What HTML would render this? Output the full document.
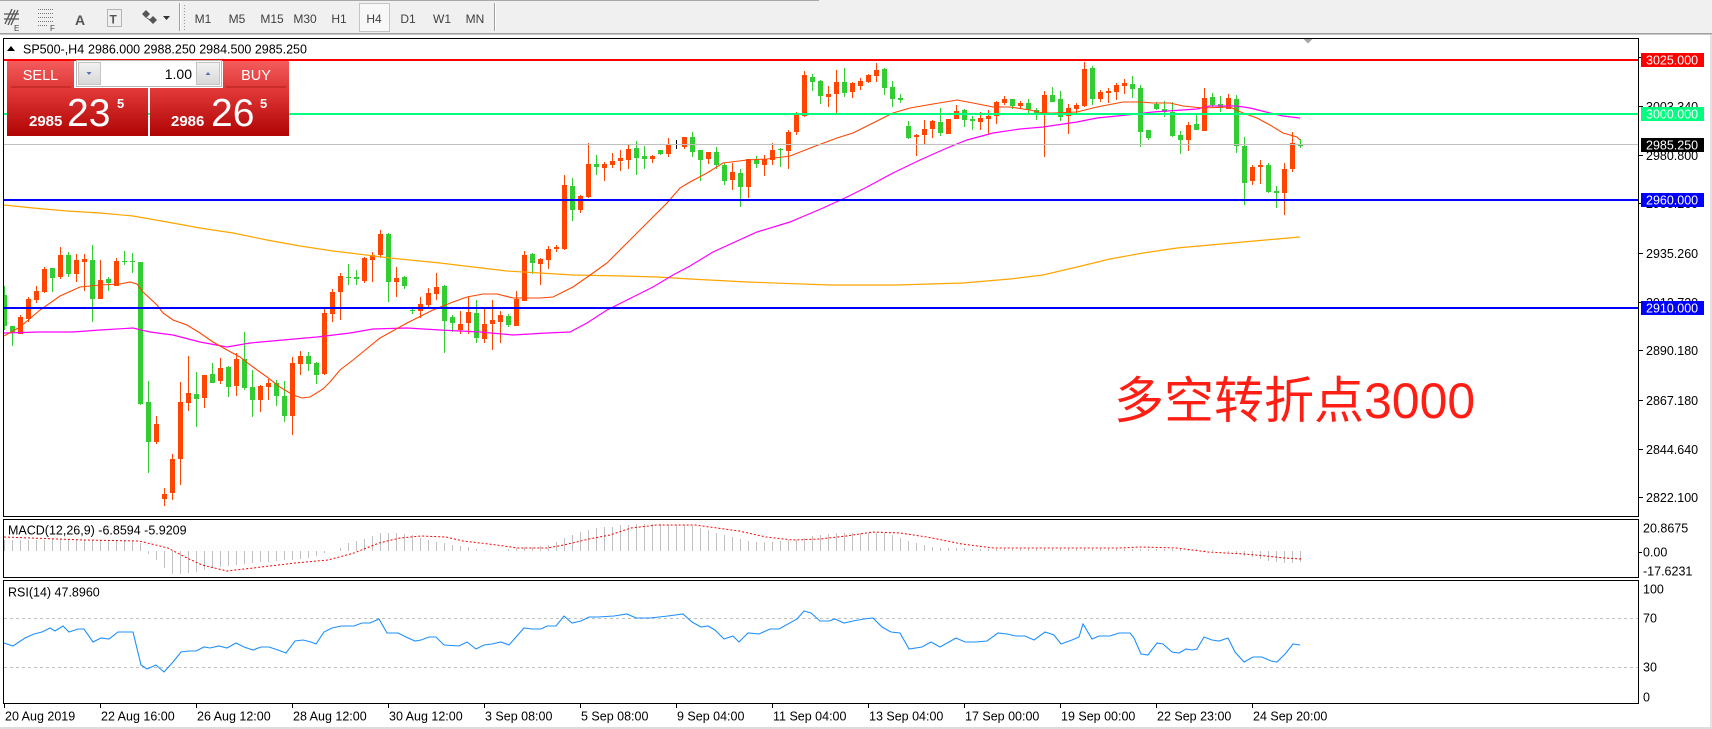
<!DOCTYPE html>
<html><head><meta charset="utf-8"><style>
html,body{margin:0;padding:0;background:#fff;width:1712px;height:729px;overflow:hidden}
svg{position:absolute;left:0;top:0}
text{font-family:"Liberation Sans",sans-serif}
</style></head><body>
<svg width="1712" height="729" viewBox="0 0 1712 729" xmlns="http://www.w3.org/2000/svg">
<defs>
<linearGradient id="gb" x1="0" y1="0" x2="0" y2="1"><stop offset="0" stop-color="#F45C5C"/><stop offset="1" stop-color="#DF3838"/></linearGradient>
<linearGradient id="gp" x1="0" y1="0" x2="0" y2="1"><stop offset="0" stop-color="#E43A3A"/><stop offset="1" stop-color="#B00404"/></linearGradient>
<linearGradient id="gbt" x1="0" y1="0" x2="0" y2="1"><stop offset="0" stop-color="#F2F2F2"/><stop offset="1" stop-color="#D8D8D8"/></linearGradient>
<clipPath id="cm"><rect x="4" y="39" width="1635" height="477"/></clipPath>
<clipPath id="cmacd"><rect x="4" y="520" width="1635" height="57"/></clipPath>
<clipPath id="crsi"><rect x="4" y="581" width="1635" height="122"/></clipPath>
</defs>
<rect x="0" y="0" width="1712" height="729" fill="#fff"/>
<!-- toolbar -->
<rect x="0" y="0" width="1712" height="33" fill="#F0F0F0"/>
<rect x="0" y="0" width="819" height="1" fill="#A8A8A8"/>
<rect x="0" y="33" width="1712" height="1" fill="#A0A0A0"/>
<rect x="0" y="34" width="1712" height="1" fill="#C8C8C8"/>
<g stroke="#555" stroke-width="1.3" fill="none">
<path d="M5 24L12 9M8 25L15 10M11 25L18 10M4 14H19M4 19H19"/>
</g>
<text x="14" y="31" font-size="8" fill="#444">E</text>
<g stroke="#777" stroke-width="1" stroke-dasharray="1 1" fill="none">
<path d="M38 9.5H54M38 13.5H54M38 17.5H54M38 21.5H54M38 25.5H48"/>
</g>
<text x="50" y="31" font-size="8" fill="#444">F</text>
<text x="75" y="25" font-size="14" font-weight="bold" fill="#555">A</text>
<rect x="107.5" y="9.5" width="14" height="17" fill="none" stroke="#777" stroke-dasharray="1 1"/>
<text x="109.5" y="23.5" font-size="12" font-weight="bold" fill="#555">T</text>
<path d="M146 10l4 4-4 4-4-4zM153 16l4 4-4 4-4-4z" fill="#555"/>
<path d="M147 18L153 22" stroke="#555"/>
<path d="M163 16h7l-3.5 4z" fill="#333"/>
<rect x="179" y="3" width="1" height="28" fill="#A0A0A0"/><rect x="180" y="3" width="1" height="28" fill="#fff"/>
<path d="M184.5 5V30" stroke="#999" stroke-dasharray="1 2"/>
<rect x="359.5" y="3.5" width="30" height="28" fill="#F8F8F8" stroke="#C4C4C4"/>
<g font-size="12" fill="#404040" text-anchor="middle">
<text x="203" y="23">M1</text><text x="237" y="23">M5</text><text x="272" y="23">M15</text><text x="305" y="23">M30</text><text x="339" y="23">H1</text><text x="374" y="23">H4</text><text x="408" y="23">D1</text><text x="442" y="23">W1</text><text x="475" y="23">MN</text>
</g>
<rect x="494" y="3" width="1" height="28" fill="#A0A0A0"/><rect x="495" y="3" width="1" height="28" fill="#fff"/>
<rect x="1710" y="35" width="2" height="694" fill="#E2E2E2"/>

<!-- main pane content -->
<g clip-path="url(#cm)">
<!-- candles: orange (bull) -->
<path stroke="#FF4500" stroke-width="1" fill="none" d="M20.5 315V334M28.5 297V322M36.5 286V303M44.5 267V293M60.5 247V279M76.5 254V282M84.5 254V291M100.5 260V299M116.5 258V286M156.5 416V444M164.5 488V506M172.5 454V500M180.5 382V485M188.5 356V411M204.5 375V408M220.5 358V384M236.5 353V396M260.5 385V412M268.5 379V400M292.5 357V435M300.5 351V375M324.5 308V375M332.5 289V322M340.5 273V320M364.5 257V283M372.5 252V282M380.5 230V258M396.5 267V297M420.5 297V318M428.5 288V309M436.5 273V300M460.5 311V334M468.5 297V334M484.5 307V343M492.5 300V350M500.5 311V343M516.5 291V326M524.5 251V301M540.5 258V285M548.5 246V269M556.5 245V252M564.5 175V250M580.5 195V213M588.5 143V198M604.5 162V181M612.5 153V168M620.5 150V171M628.5 145V169M652.5 155V163M668.5 138V157M684.5 137V149M708.5 152V164M732.5 163V190M748.5 159V198M764.5 155V176M772.5 143V165M788.5 130V169M796.5 112V135M804.5 71V117M828.5 86V107M836.5 70V113M852.5 82V98M860.5 78V90M868.5 74V83M876.5 63V82M916.5 134V156M924.5 120V144M932.5 120V138M948.5 119V134M956.5 105V119M980.5 112V130M988.5 110V134M996.5 101V124M1004.5 96V105M1020.5 101V109M1044.5 91V157M1068.5 104V134M1076.5 103V115M1084.5 62V107M1100.5 90V102M1108.5 88V103M1116.5 83V100M1124.5 79V94M1188.5 122V151M1204.5 88V131M1228.5 94V109M1252.5 165V185M1260.5 160V184M1284.5 163V215M1292.5 132V172"/>
<g fill="#FF4500">
<rect x="18" y="317" width="5" height="17"/><rect x="26" y="299" width="5" height="20"/><rect x="34" y="291" width="5" height="9"/><rect x="42" y="269" width="5" height="23"/><rect x="58" y="255" width="5" height="22"/><rect x="74" y="260" width="5" height="14"/><rect x="82" y="259" width="5" height="3"/><rect x="98" y="280" width="5" height="19"/><rect x="114" y="261" width="5" height="25"/><rect x="154" y="424" width="5" height="18"/><rect x="162" y="494" width="5" height="5"/><rect x="170" y="459" width="5" height="34"/><rect x="178" y="402" width="5" height="57"/><rect x="186" y="393" width="5" height="10"/><rect x="202" y="375" width="5" height="23"/><rect x="218" y="368" width="5" height="13"/><rect x="234" y="359" width="5" height="27"/><rect x="258" y="386" width="5" height="14"/><rect x="266" y="383" width="5" height="4"/><rect x="290" y="363" width="5" height="53"/><rect x="298" y="356" width="5" height="8"/><rect x="322" y="313" width="5" height="61"/><rect x="330" y="292" width="5" height="22"/><rect x="338" y="276" width="5" height="16"/><rect x="362" y="258" width="5" height="23"/><rect x="370" y="255" width="5" height="5"/><rect x="378" y="234" width="5" height="21"/><rect x="394" y="278" width="5" height="4"/><rect x="418" y="304" width="5" height="7"/><rect x="426" y="293" width="5" height="12"/><rect x="434" y="287" width="5" height="7"/><rect x="458" y="324" width="5" height="6"/><rect x="466" y="312" width="5" height="11"/><rect x="482" y="324" width="5" height="15"/><rect x="490" y="320" width="5" height="4"/><rect x="498" y="315" width="5" height="7"/><rect x="514" y="299" width="5" height="27"/><rect x="522" y="255" width="5" height="46"/><rect x="538" y="259" width="5" height="5"/><rect x="546" y="249" width="5" height="11"/><rect x="554" y="247" width="5" height="2"/><rect x="562" y="185" width="5" height="64"/><rect x="578" y="196" width="5" height="14"/><rect x="586" y="164" width="5" height="33"/><rect x="602" y="164" width="5" height="4"/><rect x="610" y="161" width="5" height="4"/><rect x="618" y="158" width="5" height="3"/><rect x="626" y="149" width="5" height="11"/><rect x="650" y="156" width="5" height="3"/><rect x="666" y="145" width="5" height="9"/><rect x="682" y="137" width="5" height="10"/><rect x="706" y="152" width="5" height="7"/><rect x="730" y="172" width="5" height="8"/><rect x="746" y="159" width="5" height="28"/><rect x="762" y="159" width="5" height="6"/><rect x="770" y="150" width="5" height="10"/><rect x="786" y="132" width="5" height="19"/><rect x="794" y="114" width="5" height="18"/><rect x="802" y="75" width="5" height="41"/><rect x="826" y="94" width="5" height="3"/><rect x="834" y="82" width="5" height="12"/><rect x="850" y="83" width="5" height="9"/><rect x="858" y="81" width="5" height="5"/><rect x="866" y="75" width="5" height="7"/><rect x="874" y="70" width="5" height="6"/><rect x="914" y="135" width="5" height="2"/><rect x="922" y="129" width="5" height="6"/><rect x="930" y="121" width="5" height="8"/><rect x="946" y="119" width="5" height="15"/><rect x="954" y="111" width="5" height="8"/><rect x="978" y="118" width="5" height="4"/><rect x="986" y="116" width="5" height="3"/><rect x="994" y="102" width="5" height="14"/><rect x="1002" y="99" width="5" height="4"/><rect x="1018" y="103" width="5" height="3"/><rect x="1042" y="95" width="5" height="19"/><rect x="1066" y="108" width="5" height="8"/><rect x="1074" y="105" width="5" height="4"/><rect x="1082" y="69" width="5" height="37"/><rect x="1098" y="92" width="5" height="7"/><rect x="1106" y="91" width="5" height="2"/><rect x="1114" y="85" width="5" height="7"/><rect x="1122" y="83" width="5" height="3"/><rect x="1186" y="125" width="5" height="15"/><rect x="1202" y="98" width="5" height="33"/><rect x="1226" y="98" width="5" height="11"/><rect x="1250" y="167" width="5" height="14"/><rect x="1258" y="165" width="5" height="2"/><rect x="1282" y="169" width="5" height="24"/><rect x="1290" y="143" width="5" height="26"/>
</g>
<!-- candles: green (bear) -->
<path stroke="#32CD32" stroke-width="1" fill="none" d="M4.5 286V330M12.5 326V346M52.5 268V292M68.5 252V277M92.5 245V322M108.5 277V291M124.5 251V265M132.5 253V273M140.5 262V405M148.5 381V473M196.5 372V427M212.5 363V383M228.5 366V397M244.5 332V390M252.5 370V417M276.5 380V406M284.5 381V422M308.5 352V371M316.5 362V384M348.5 264V285M356.5 270V285M388.5 233V302M404.5 276V289M412.5 309V314M444.5 285V353M452.5 315V332M476.5 300V343M508.5 314V327M532.5 253V274M572.5 178V221M596.5 155V175M636.5 141V175M644.5 146V169M660.5 150V155M692.5 132V157M700.5 150V181M716.5 147V169M724.5 163V185M740.5 169V207M756.5 156V168M780.5 148V167M812.5 74V91M820.5 80V104M844.5 68V97M884.5 68V95M892.5 81V107M900.5 94V103M908.5 121V139M940.5 108V136M964.5 109V127M972.5 116V130M1012.5 99V109M1028.5 99V114M1036.5 108V120M1052.5 87V102M1060.5 91V121M1092.5 66V105M1132.5 76V98M1140.5 85V147M1148.5 130V140M1156.5 102V110M1164.5 101V117M1172.5 102V137M1180.5 131V154M1196.5 113V130M1212.5 93V107M1220.5 96V112M1236.5 95V153M1244.5 137V205M1268.5 163V193M1276.5 186V208M1300.5 139V148"/>
<g fill="#32CD32">
<rect x="4" y="295" width="3" height="31"/><rect x="10" y="326" width="5" height="7"/><rect x="50" y="268" width="5" height="10"/><rect x="66" y="255" width="5" height="19"/><rect x="90" y="260" width="5" height="39"/><rect x="106" y="279" width="5" height="4"/><rect x="122" y="261" width="5" height="1"/><rect x="130" y="261" width="5" height="1"/><rect x="138" y="262" width="5" height="142"/><rect x="146" y="402" width="5" height="40"/><rect x="194" y="394" width="5" height="5"/><rect x="210" y="374" width="5" height="9"/><rect x="226" y="367" width="5" height="20"/><rect x="242" y="359" width="5" height="29"/><rect x="250" y="387" width="5" height="13"/><rect x="274" y="383" width="5" height="13"/><rect x="282" y="396" width="5" height="20"/><rect x="306" y="356" width="5" height="8"/><rect x="314" y="363" width="5" height="12"/><rect x="346" y="277" width="5" height="1"/><rect x="354" y="277" width="5" height="2"/><rect x="386" y="234" width="5" height="48"/><rect x="402" y="277" width="5" height="9"/><rect x="410" y="310" width="5" height="1"/><rect x="442" y="286" width="5" height="35"/><rect x="450" y="317" width="5" height="6"/><rect x="474" y="313" width="5" height="25"/><rect x="506" y="316" width="5" height="9"/><rect x="530" y="254" width="5" height="9"/><rect x="570" y="186" width="5" height="24"/><rect x="594" y="164" width="5" height="3"/><rect x="634" y="148" width="5" height="10"/><rect x="642" y="156" width="5" height="3"/><rect x="658" y="150" width="5" height="4"/><rect x="690" y="137" width="5" height="15"/><rect x="698" y="150" width="5" height="10"/><rect x="714" y="152" width="5" height="13"/><rect x="722" y="165" width="5" height="16"/><rect x="738" y="173" width="5" height="14"/><rect x="754" y="160" width="5" height="4"/><rect x="778" y="149" width="5" height="1"/><rect x="810" y="77" width="5" height="5"/><rect x="818" y="81" width="5" height="15"/><rect x="842" y="82" width="5" height="11"/><rect x="882" y="69" width="5" height="19"/><rect x="890" y="87" width="5" height="12"/><rect x="898" y="98" width="5" height="2"/><rect x="906" y="126" width="5" height="12"/><rect x="938" y="122" width="5" height="11"/><rect x="962" y="110" width="5" height="10"/><rect x="970" y="119" width="5" height="2"/><rect x="1010" y="99" width="5" height="7"/><rect x="1026" y="103" width="5" height="7"/><rect x="1034" y="110" width="5" height="4"/><rect x="1050" y="95" width="5" height="7"/><rect x="1058" y="99" width="5" height="18"/><rect x="1090" y="68" width="5" height="31"/><rect x="1130" y="84" width="5" height="5"/><rect x="1138" y="88" width="5" height="44"/><rect x="1146" y="130" width="5" height="8"/><rect x="1154" y="104" width="5" height="5"/><rect x="1162" y="109" width="5" height="3"/><rect x="1170" y="112" width="5" height="24"/><rect x="1178" y="135" width="5" height="5"/><rect x="1194" y="124" width="5" height="6"/><rect x="1210" y="97" width="5" height="8"/><rect x="1218" y="104" width="5" height="4"/><rect x="1234" y="99" width="5" height="47"/><rect x="1242" y="146" width="5" height="37"/><rect x="1266" y="165" width="5" height="27"/><rect x="1274" y="191" width="5" height="2"/><rect x="1298" y="144" width="5" height="2"/>
</g>
<path d="M676.5 140V149M674 144.5H679" stroke="#000" stroke-width="1"/>
<!-- moving averages -->
<polyline fill="none" stroke="#FFA500" stroke-width="1.2" points="4,205 33,208 67,211 100,213 133,216 167,222 200,228 233,233 267,240 300,246 333,251 350,253 390,258 440,263 473,267 507,271 540,273 573,275 623,276 657,277 690,279 747,282 830,285 897,285 963,283 1010,279 1043,275 1077,267 1110,259 1143,253 1177,248 1210,245 1243,242 1277,239 1300,237"/>
<polyline fill="none" stroke="#FF00FF" stroke-width="1.2" points="4,333 40,332 73,332 100,330 133,328 150,332 173,335 200,342 227,347 250,343 283,340 317,337 350,333 373,329 407,328 440,330 480,332 513,335 547,333 570,332 587,323 607,310 627,300 653,287 673,275 690,266 713,252 757,232 790,222 823,208 847,197 867,187 893,173 920,160 947,148 967,140 993,133 1020,129 1043,127 1077,122 1097,118 1127,115 1153,112 1197,109 1210,106 1237,106 1250,108 1270,113 1283,116 1300,118"/>
<polyline fill="none" stroke="#FF4500" stroke-width="1.1" points="4,336 20,327 40,310 60,296 80,287 100,285 120,284 130,282 137,284 143,292 157,305 163,313 173,320 187,325 200,333 213,342 227,350 240,357 253,367 267,377 280,387 293,395 302,398 310,397 323,389 330,382 340,370 353,360 380,338 407,323 433,310 453,302 467,297 483,294 497,294 513,298 540,298 553,297 573,287 593,273 607,263 627,243 647,223 667,203 680,188 690,182 707,173 723,163 747,160 767,159 790,156 813,147 837,138 853,133 873,123 893,113 910,108 933,104 957,100 973,103 993,107 1010,107 1030,110 1043,113 1053,113 1077,112 1097,107 1123,102 1140,102 1153,103 1170,103 1183,106 1203,108 1230,107 1243,113 1257,118 1270,125 1283,133 1297,137 1300,140"/>
<!-- horizontal lines -->
<path d="M3 144.5H1639" stroke="#C0C0C0" stroke-width="1"/>
<path d="M3 60H1639" stroke="#FF0000" stroke-width="2"/>
<path d="M3 114H1639" stroke="#00FF7F" stroke-width="2"/>
<path d="M3 200H1639" stroke="#0000FF" stroke-width="2"/>
<path d="M3 308H1639" stroke="#0000FF" stroke-width="2"/>
</g>
<!-- chart shift marker -->
<path d="M1303 38.5h10l-5 5z" fill="#A8A8A8"/>
<!-- info line -->
<path d="M7 51h8l-4-5z" fill="#000"/>
<text x="23" y="53.5" font-size="12.5" fill="#000">SP500-,H4</text>
<text x="88" y="53.5" font-size="12.5" fill="#000">2986.000 2988.250 2984.500 2985.250</text>

<!-- price axis -->
<g stroke="#000" stroke-width="1">
<path d="M1639 57.5h4M1639 106.5h4M1639 155.5h4M1639 203.5h4M1639 253.5h4M1639 302.5h4M1639 350.5h4M1639 400.5h4M1639 449.5h4M1639 497.5h4"/>
</g>
<g font-size="12.5" fill="#000">
<text x="1646" y="62">3025.880</text>
<text x="1646" y="111">3003.340</text>
<text x="1646" y="160">2980.800</text>
<text x="1646" y="208">2958.260</text>
<text x="1646" y="258">2935.260</text>
<text x="1646" y="307">2912.720</text>
<text x="1646" y="355">2890.180</text>
<text x="1646" y="405">2867.180</text>
<text x="1646" y="454">2844.640</text>
<text x="1646" y="502">2822.100</text>
</g>
<rect x="1641" y="53" width="63" height="14" fill="#FF0000"/>
<rect x="1641" y="107" width="63" height="14" fill="#00FF7F"/>
<rect x="1641" y="138" width="63" height="14" fill="#000"/>
<rect x="1641" y="193" width="63" height="14" fill="#0000FF"/>
<rect x="1641" y="301" width="63" height="14" fill="#0000FF"/>
<g font-size="12.5" fill="#fff">
<text x="1646" y="64.5">3025.000</text>
<text x="1646" y="118.5">3000.000</text>
<text x="1646" y="149.5">2985.250</text>
<text x="1646" y="204.5">2960.000</text>
<text x="1646" y="312.5">2910.000</text>
</g>

<!-- MACD pane -->
<g clip-path="url(#cmacd)">
<path stroke="#C0C0C0" stroke-width="1" fill="none" d="M4.5 551V540M12.5 551V540M20.5 551V540M28.5 551V540M36.5 551V540M44.5 551V540M52.5 551V539M60.5 551V539M68.5 551V539M76.5 551V539M84.5 551V540M92.5 551V540M100.5 551V540M108.5 551V540M116.5 551V540M124.5 551V540M132.5 551V541M140.5 551V543M148.5 551V554M156.5 551V560M164.5 551V568M172.5 551V574M180.5 551V574M188.5 551V573M196.5 551V572M204.5 551V570M212.5 551V568M220.5 551V567M228.5 551V566M236.5 551V565M244.5 551V564M252.5 551V563M260.5 551V562M268.5 551V562M276.5 551V561M284.5 551V560M292.5 551V560M300.5 551V559M308.5 551V558M316.5 551V556M324.5 551V553M340.5 551V548M348.5 551V543M356.5 551V541M364.5 551V539M372.5 551V536M380.5 551V533M388.5 551V533M396.5 551V533M404.5 551V534M412.5 551V535M420.5 551V538M428.5 551V540M436.5 551V542M444.5 551V543M452.5 551V545M460.5 551V546M468.5 551V547M476.5 551V549M484.5 551V550M508.5 551V549M516.5 551V548M524.5 551V547M532.5 551V547M540.5 551V546M548.5 551V545M556.5 551V542M564.5 551V538M572.5 551V535M580.5 551V532M588.5 551V530M596.5 551V528M604.5 551V527M612.5 551V527M620.5 551V525M628.5 551V525M636.5 551V524M644.5 551V524M652.5 551V524M660.5 551V524M668.5 551V525M676.5 551V525M684.5 551V525M692.5 551V526M700.5 551V528M708.5 551V530M716.5 551V533M724.5 551V535M732.5 551V537M740.5 551V539M748.5 551V541M756.5 551V542M764.5 551V542M772.5 551V542M780.5 551V541M788.5 551V540M796.5 551V540M804.5 551V538M812.5 551V536M820.5 551V535M828.5 551V534M836.5 551V533M844.5 551V533M852.5 551V533M860.5 551V533M868.5 551V533M876.5 551V533M884.5 551V533M892.5 551V535M900.5 551V538M908.5 551V541M916.5 551V543M924.5 551V545M932.5 551V547M940.5 551V548M948.5 551V548M956.5 551V548M964.5 551V548M972.5 551V549M980.5 551V549M988.5 551V549M996.5 551V549M1004.5 551V549M1012.5 551V549M1020.5 551V549M1028.5 551V549M1036.5 551V549M1044.5 551V549M1052.5 551V549M1060.5 551V549M1068.5 551V549M1076.5 551V549M1084.5 551V549M1092.5 551V549M1100.5 551V549M1108.5 551V549M1116.5 551V549M1124.5 551V549M1132.5 551V549M1140.5 551V549M1148.5 551V549M1156.5 551V549M1164.5 551V549M1172.5 551V549M1180.5 551V549M1188.5 551V549M1196.5 551V549M1204.5 551V550M1212.5 551V550M1228.5 551V552M1236.5 551V553M1244.5 551V556M1252.5 551V557M1260.5 551V559M1268.5 551V561M1276.5 551V562M1284.5 551V563M1292.5 551V563M1300.5 551V562"/>
<polyline fill="none" stroke="#FF0000" stroke-width="1" stroke-dasharray="2 2" points="4,537 84,540 139,541 168,548 185,557 202,565 227,571 253,568 295,563 328,560 354,553 379,543 400,538 421,536 446,537 463,541 497,545 518,548 547,548 564,545 589,539 610,535 631,528 657,525 695,525 717,528 739,531 766,537 793,540 820,539 846,536 873,532 900,533 927,537 962,544 994,548 1119,548 1141,547 1177,548 1208,552 1244,554 1266,556 1284,558 1302,559"/>
</g>
<text x="8" y="534.5" font-size="12.5" fill="#000">MACD(12,26,9) -6.8594 -5.9209</text>
<path d="M1639 552.5h3" stroke="#000"/>
<g font-size="12.5" fill="#000">
<text x="1643" y="532.5">20.8675</text>
<text x="1643" y="556.5">0.00</text>
<text x="1643" y="575.5">-17.6231</text>
</g>

<!-- RSI pane -->
<path d="M4 618.5H1638M4 667.5H1638" stroke="#C0C0C0" stroke-width="1" stroke-dasharray="3 3"/>
<g clip-path="url(#crsi)">
<polyline fill="none" stroke="#1E90FF" stroke-width="1.1" points="4,643 13,646 25,638 34,634 42,632 50,628 55,631 63,626 69,632 78,629 84,629 93,642 101,638 109,639 118,632 126,632 133,632 141,665 147,669 156,665 164,672 173,662 181,652 189,651 196,651 204,647 210,648 219,646 227,648 236,643 244,647 253,650 261,647 269,647 278,650 286,653 295,641 303,640 311,642 316,644 324,632 332,628 341,626 354,626 362,623 370,623 379,619 387,633 398,633 406,637 415,641 421,640 429,637 436,637 444,645 459,646 467,642 476,649 484,645 492,644 501,642 509,645 524,628 532,629 541,629 547,626 556,626 564,616 572,623 581,621 589,617 598,617 614,616 627,614 636,618 650,618 668,616 683,614 692,622 701,627 708,626 715,630 724,639 733,636 739,642 748,633 759,634 770,629 779,629 797,619 804,611 811,613 820,621 829,621 835,619 844,623 853,621 864,619 873,618 882,627 891,632 900,633 909,649 922,647 931,642 940,647 949,642 956,638 965,642 976,642 987,641 998,633 1007,634 1016,636 1025,636 1034,640 1045,632 1054,635 1061,644 1072,640 1079,637 1083,624 1092,639 1099,636 1110,636 1119,633 1130,633 1134,638 1141,654 1148,655 1157,643 1163,644 1172,652 1179,653 1186,649 1192,650 1197,649 1204,637 1212,640 1219,641 1228,638 1235,652 1244,662 1253,657 1262,657 1271,661 1277,662 1286,653 1293,644 1300,645"/>
</g>
<text x="8" y="596.5" font-size="12.5" fill="#000">RSI(14) 47.8960</text>
<g font-size="12.5" fill="#000">
<text x="1643" y="593.5">100</text>
<text x="1643" y="622.5">70</text>
<text x="1643" y="671.5">30</text>
<text x="1643" y="701.5">0</text>
</g>

<!-- pane borders -->
<g fill="none" stroke="#000" stroke-width="1">
<rect x="3.5" y="38.5" width="1635" height="478"/>
<rect x="3.5" y="519.5" width="1635" height="58"/>
<rect x="3.5" y="580.5" width="1635" height="123"/>
</g>

<!-- time axis -->
<path stroke="#000" stroke-width="1" d="M4.5 704V708M100.5 704V708M196.5 704V708M292.5 704V708M388.5 704V708M484.5 704V708M580.5 704V708M676.5 704V708M772.5 704V708M868.5 704V708M964.5 704V708M1060.5 704V708M1156.5 704V708M1252.5 704V708"/>
<g font-size="12.5" fill="#000">
<text x="5" y="720.5">20 Aug 2019</text>
<text x="101" y="720.5">22 Aug 16:00</text>
<text x="197" y="720.5">26 Aug 12:00</text>
<text x="293" y="720.5">28 Aug 12:00</text>
<text x="389" y="720.5">30 Aug 12:00</text>
<text x="485" y="720.5">3 Sep 08:00</text>
<text x="581" y="720.5">5 Sep 08:00</text>
<text x="677" y="720.5">9 Sep 04:00</text>
<text x="773" y="720.5">11 Sep 04:00</text>
<text x="869" y="720.5">13 Sep 04:00</text>
<text x="965" y="720.5">17 Sep 00:00</text>
<text x="1061" y="720.5">19 Sep 00:00</text>
<text x="1157" y="720.5">22 Sep 23:00</text>
<text x="1253" y="720.5">24 Sep 20:00</text>
</g>
<rect x="0" y="727" width="1712" height="2" fill="#DCDCDC"/>

<!-- annotation -->
<text x="1114" y="418" font-size="50" fill="#FF1E14" style='font-family:"Liberation Sans","Noto Sans CJK SC",sans-serif'>多空转折点3000</text>

<!-- trade panel -->
<rect x="7" y="61" width="67" height="27" fill="url(#gb)"/>
<rect x="11" y="86.5" width="60" height="1" fill="#B52020"/>
<text x="40.5" y="80" font-size="14.5" fill="#fff" text-anchor="middle">SELL</text>
<rect x="223" y="61" width="66" height="27" fill="url(#gb)"/>
<rect x="226" y="86.5" width="60" height="1" fill="#B52020"/>
<text x="256" y="80" font-size="14.5" fill="#fff" text-anchor="middle">BUY</text>
<rect x="76.5" y="60.5" width="145" height="26" fill="#fff" stroke="#B8B8B8"/>
<rect x="78.5" y="62.5" width="22" height="22" fill="url(#gbt)" stroke="#C4C4C4"/>
<rect x="196.5" y="62.5" width="23" height="22" fill="url(#gbt)" stroke="#C4C4C4"/>
<path d="M86.5 72h5l-2.5 3z" fill="#5C70B0"/>
<path d="M205.5 75h5l-2.5-3z" fill="#5C70B0"/>
<text x="192" y="79" font-size="14" fill="#000" text-anchor="end">1.00</text>
<rect x="7" y="88" width="141" height="48" fill="url(#gp)"/>
<rect x="150" y="88" width="139" height="48" fill="url(#gp)"/>
<g fill="#fff">
<text x="29" y="126" font-size="15" font-weight="bold">2985</text>
<text x="67" y="126" font-size="39">23</text>
<text x="117" y="108" font-size="13" font-weight="bold">5</text>
<text x="171" y="126" font-size="15" font-weight="bold">2986</text>
<text x="211" y="126" font-size="39">26</text>
<text x="260" y="108" font-size="13" font-weight="bold">5</text>
</g>
</svg>
</body></html>
